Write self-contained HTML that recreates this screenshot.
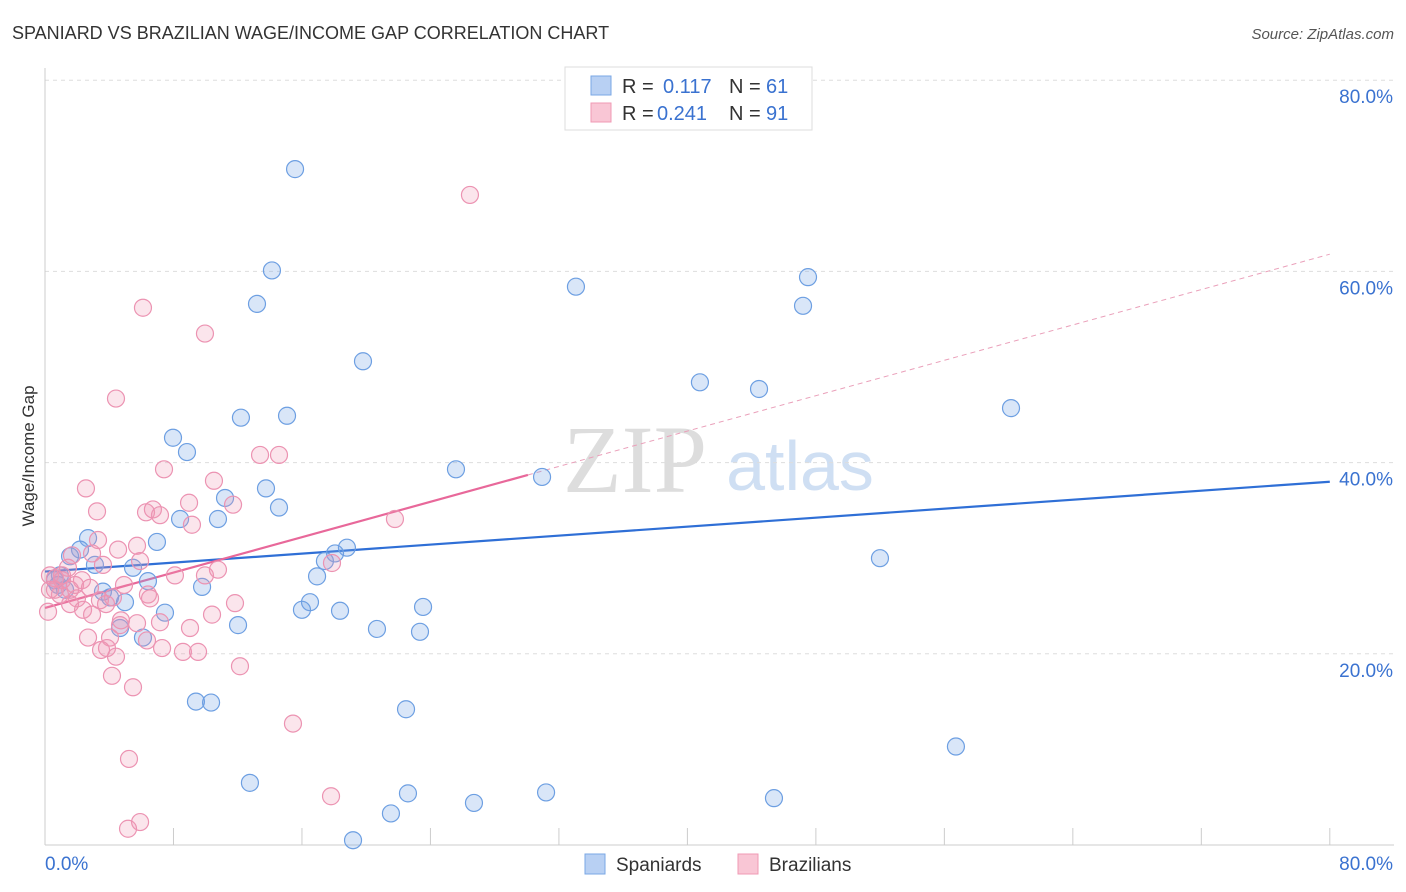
<!DOCTYPE html>
<html><head><meta charset="utf-8"><style>
body{margin:0;background:#fff;font-family:"Liberation Sans",sans-serif;}
svg{display:block}
</style></head><body>
<svg id="c" width="1406" height="892" xmlns="http://www.w3.org/2000/svg">
<text x="12" y="39" font-size="18" fill="#333">SPANIARD VS BRAZILIAN WAGE/INCOME GAP CORRELATION CHART</text>
<text x="1394" y="39" font-size="15" fill="#555" font-style="italic" text-anchor="end">Source: ZipAtlas.com</text>
<text transform="translate(34,456) rotate(-90)" font-size="17" fill="#333" text-anchor="middle">Wage/Income Gap</text>
<g><text x="635" y="492" font-family="Liberation Serif" font-size="96" fill="#ddd" text-anchor="middle">ZIP</text><text x="800" y="490" font-size="70" fill="#cfdff3" text-anchor="middle">atlas</text></g>
<g id="grid"></g><g id="axes"></g><g id="trend"></g><g id="pts"></g>
<g>
<rect x="565" y="67" width="247" height="63" fill="#fff" stroke="#ddd"/>
<rect x="591" y="76" width="20" height="19" fill="#b8d0f3" stroke="#7aa7e5"/>
<rect x="591" y="103" width="20" height="19" fill="#f9c6d5" stroke="#f09ab4"/>
<text x="622" y="93" font-size="20" fill="#333">R = </text><text x="663" y="93" font-size="20" fill="#3a72d0">0.117</text>
<text x="729" y="93" font-size="20" fill="#333">N = </text><text x="766" y="93" font-size="20" fill="#3a72d0">61</text>
<text x="622" y="120" font-size="20" fill="#333">R = </text><text x="657" y="120" font-size="20" fill="#3a72d0">0.241</text>
<text x="729" y="120" font-size="20" fill="#333">N = </text><text x="766" y="120" font-size="20" fill="#3a72d0">91</text>
</g>
<g>
<rect x="585" y="854" width="20" height="20" fill="#b8d0f3" stroke="#7aa7e5"/><text x="616" y="871" font-size="19" fill="#333">Spaniards</text>
<rect x="738" y="854" width="20" height="20" fill="#f9c6d5" stroke="#f09ab4"/><text x="769" y="871" font-size="19" fill="#333">Brazilians</text>
</g>
</svg>
<script>
const yTicks=[20,40,60,80];
const xTickLabels=["0.0%","80.0%"];
const blueX=[15.57,14.13,13.2,19.8,33.06,47.51,47.2,40.78,44.46,60.15,12.2,15.07,7.97,8.84,25.59,30.95,11.21,13.76,14.57,8.41,10.77,2.68,6.97,18.8,18.06,17.43,2.18,1.56,3.11,5.48,16.94,6.41,9.78,0.93,0.62,0.81,1.25,3.61,4.05,4.98,16.5,16.0,18.37,23.54,7.47,4.67,12.02,20.67,23.35,6.1,51.99,9.4,10.34,22.48,56.72,12.76,22.6,31.2,26.71,45.39,21.54,19.18];
const blueY=[70.7,60.1,56.6,50.6,58.4,59.4,56.4,48.4,47.7,45.7,44.7,44.9,42.6,41.1,39.3,38.5,36.3,37.3,35.3,34.1,34.1,32.1,31.7,31.1,30.5,29.7,30.9,30.2,29.3,29.0,28.1,27.6,27.0,28.2,27.7,27.2,26.7,26.5,25.9,25.4,25.4,24.6,24.5,24.9,24.3,22.7,23.0,22.6,22.3,21.7,30.0,15.0,14.9,14.2,10.3,6.5,5.4,5.5,4.4,4.9,3.3,0.5];
const pinkX=[26.46,6.1,9.96,4.42,7.41,13.39,14.57,2.55,10.52,3.24,8.97,11.71,6.29,6.72,7.16,9.15,21.79,3.3,4.55,1.68,5.73,2.93,5.92,3.61,1.43,0.31,0.62,1.06,1.87,2.3,2.8,0.31,0.93,1.99,3.42,4.23,4.92,6.41,8.09,9.96,10.77,17.87,1.56,2.37,3.8,2.93,6.54,4.73,5.73,7.16,9.03,11.83,10.4,0.19,2.68,4.05,6.35,3.49,3.86,8.59,9.53,7.29,4.42,4.67,12.14,4.17,5.48,15.44,5.23,17.81,5.92,5.17,1.56,0.62,1.06];
const pinkY=[68.0,56.2,53.5,46.7,39.3,40.8,40.8,37.3,38.1,34.9,35.8,35.6,34.8,35.1,34.5,33.5,34.1,31.9,30.9,30.3,31.3,30.5,29.7,29.3,29.0,28.2,27.9,27.7,27.2,27.7,26.9,26.7,26.2,25.8,25.6,25.9,27.2,26.2,28.2,28.2,28.8,29.5,25.2,24.6,25.2,24.1,25.8,23.5,23.2,23.3,22.7,25.3,24.1,24.4,21.7,21.7,21.4,20.4,20.6,20.2,20.2,20.6,19.7,23.0,18.7,17.7,16.5,12.7,9.0,5.1,2.4,1.7,26.7,26.7,28.2];
const blueTrend=[28.6,38.0];
const pinkTrend=[24.8,61.8];
const pinkSolidEnd=30.07;
const X=v=>45+v*16.06, Y=v=>845-v*9.56;
const NS="http://www.w3.org/2000/svg";
function mk(p,t,a){const e=document.createElementNS(NS,t);for(const k in a)e.setAttribute(k,a[k]);document.getElementById(p).appendChild(e);return e;}
yTicks.forEach(t=>{
 const l=mk('grid','line',{x1:45,x2:1394,y1:Y(t),y2:Y(t),stroke:'#ddd','stroke-dasharray':'4,4'});
 
 
 const tx=mk('grid','text',{x:1393,y:Y(t)+23,'font-size':19,fill:'#3a72d0','text-anchor':'end'});tx.textContent=t.toFixed(1)+'%';
 
 
});
mk('axes','line',{x1:45,x2:1394,y1:845,y2:845,stroke:'#ccc'});
mk('axes','line',{x1:45,x2:45,y1:68,y2:845,stroke:'#ccc'});
for(let i=0;i<=10;i++){const l=mk('axes','line',{x1:X(i*8),x2:X(i*8),y1:828,y2:845,stroke:'#ccc'});
 
 }
[[0,45,'start'],[80,1393,'end']].forEach((d,i)=>{const t=mk('axes','text',{x:d[1],y:870,'font-size':19,fill:'#3a72d0','text-anchor':d[2]});t.textContent=xTickLabels[i];
 
 });
function dot(x,y,f,s,n){const c=mk('pts','circle',{cx:X(x),cy:Y(y),r:8.5,fill:f,stroke:s,'stroke-width':1.2});
 
 }
blueX.forEach((x,i)=>dot(x,blueY[i],'rgba(120,165,230,0.28)','#6d9fe2','spaniard-point'));
pinkX.forEach((x,i)=>dot(x,pinkY[i],'rgba(240,150,180,0.25)','#ec93b2','brazilian-point'));
const pv=x=>pinkTrend[0]+(pinkTrend[1]-pinkTrend[0])*x/80;
let bl=mk('trend','line',{x1:X(0),y1:Y(blueTrend[0]),x2:X(80),y2:Y(blueTrend[1]),stroke:'#2f6fd6','stroke-width':2.2});


let ps=mk('trend','line',{x1:X(0),y1:Y(pv(0)),x2:X(pinkSolidEnd),y2:Y(pv(pinkSolidEnd)),stroke:'#e8689a','stroke-width':2.2});


let pd=mk('trend','line',{x1:X(pinkSolidEnd),y1:Y(pv(pinkSolidEnd)),x2:X(80),y2:Y(pv(80)),stroke:'#eaa0ba','stroke-width':1,'stroke-dasharray':'5,4'});


</script>
</body></html>
